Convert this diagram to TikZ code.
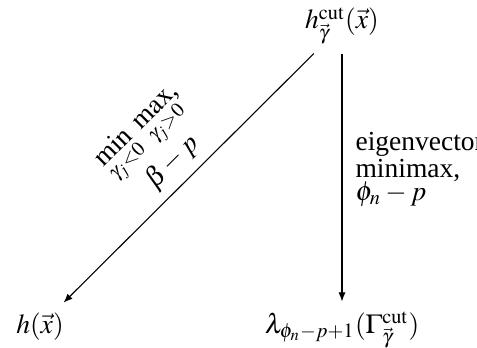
\documentclass[tikz,border=0pt]{standalone}
\usepackage{mathptmx}
\usepackage{fontspec}
\setmainfont{Liberation Serif}
\usetikzlibrary{arrows.meta}
\begin{document}
\begin{tikzpicture}[x=0.3636pt,y=-0.3636pt,
  every node/.style={inner sep=3.33pt, font=\fontsize{10}{8.5}\selectfont},
  arr/.style={line width=0.4pt,-{Latex[length=3.3pt,width=2.6pt]}},
  lab/.style={font=\fontsize{10}{8.5}\selectfont}]
\useasboundingbox (0,0) rectangle (477,348);
\node[anchor=base] (top) at (342,29) {$h^{\mathrm{cut}}_{\vec\gamma}(\vec x)$};
\node[anchor=base] (bl) at (40,333) {$h(\vec x)$};
\node[anchor=base] (br) at (342,333) {$\lambda_{\phi_n-p+1}(\Gamma^{\mathrm{cut}}_{\vec\gamma})$};
\draw[arr] (top) -- (bl)
  node[midway, sloped, above, align=center, lab] {$\min\limits_{\gamma_j<0}\ \max\limits_{\gamma_j>0}$,\\$\beta-p$};
\draw[arr] (top) -- (br)
  node[midway, right, align=left, lab, yshift=2.9pt, xshift=1.4pt] {eigenvector\\minimax,\\$\phi_n-p$};
\end{tikzpicture}
\end{document}
